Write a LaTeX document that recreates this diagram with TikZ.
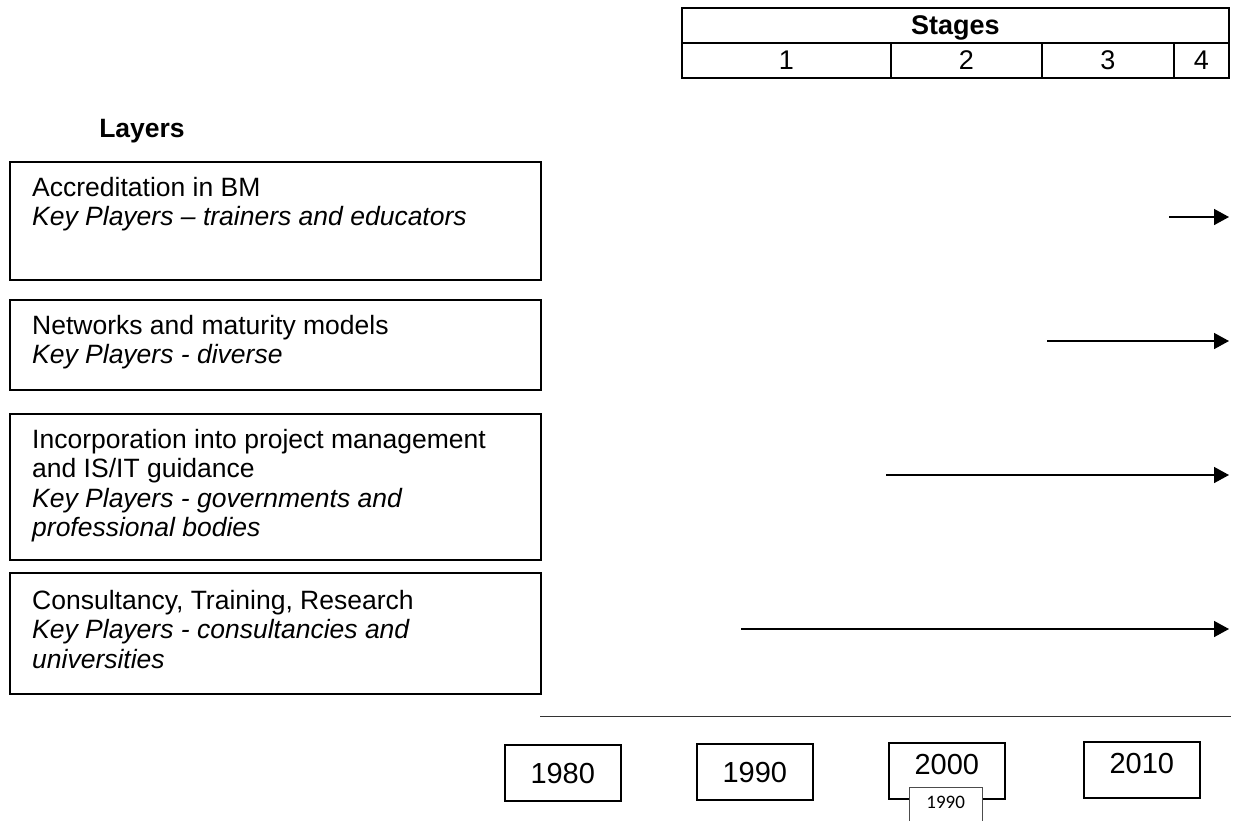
\documentclass[tikz,border=0pt]{standalone}
\usepackage{fontspec}
\setmainfont{Liberation Sans}
\newfontfamily\smallfont{Carlito}
\usetikzlibrary{arrows.meta,calc}
\begin{document}
\begin{tikzpicture}[x=1pt,y=-1pt,
  txt/.style={font=\fontsize{26.5}{29.5}\selectfont},
  cell/.style={draw, line width=1.6pt, inner sep=0pt, anchor=north west, font=\fontsize{27}{30}\selectfont, text height=19.3pt, text depth=0pt, minimum height=35pt},
  layerbox/.style={draw, line width=1.5pt, inner sep=0pt, anchor=north west, minimum width=531pt},
  layertext/.style={txt, anchor=north west, inner sep=0pt, align=left},
  yearbox/.style={draw, line width=1.5pt, inner sep=0pt, anchor=north west, minimum width=116pt, minimum height=56pt, font=\fontsize{29}{32}\selectfont, text height=20.8pt, text depth=0pt},
  arr/.style={line width=1.5pt, -{Triangle[length=15pt,width=16pt]}}
]
\useasboundingbox (0,0) rectangle (1233,820);
% Stages table
\node[cell, minimum width=547pt, font=\fontsize{27}{30}\selectfont\bfseries] (stages) at (681,7) {Stages};
\node[cell, minimum width=209pt] (s1) at (681,42) {1};
\node[cell, minimum width=151pt] (s2) at (890,42) {2};
\node[cell, minimum width=132pt] (s3) at (1041,42) {3};
\node[cell, minimum width=55pt] (s4) at (1173,42) {4};
% Layers title
\node[font=\fontsize{26.5}{29.5}\selectfont\bfseries, text height=19pt, text depth=0pt, inner sep=0pt] (layers) at (142,128) {Layers};
% Layer boxes
\node[layerbox, minimum height=118pt] (b1) at (9,161) {};
\node[layertext] (t1) at ($(b1.north west)+(23,16)$) {Accreditation in BM\\\itshape Key Players -- trainers and educators};
\node[layerbox, minimum height=90pt] (b2) at (9,299) {};
\node[layertext] (t2) at ($(b2.north west)+(23,16)$) {Networks and maturity models\\\itshape Key Players - diverse};
\node[layerbox, minimum height=146pt] (b3) at (9,413) {};
\node[layertext] (t3) at ($(b3.north west)+(23,16)$) {Incorporation into project management\\and IS/IT guidance\\\itshape Key Players - governments and\\\itshape professional bodies};
\node[layerbox, minimum height=121pt] (b4) at (9,572) {};
\node[layertext] (t4) at ($(b4.north west)+(23,18)$) {Consultancy, Training, Research\\\itshape Key Players - consultancies and\\\itshape universities};
% Arrows
\coordinate (a1s) at (1169,217); \coordinate (a1e) at (1229,217);
\coordinate (a2s) at (1047,341); \coordinate (a2e) at (1229,341);
\coordinate (a3s) at (886,475); \coordinate (a3e) at (1229,475);
\coordinate (a4s) at (741,629); \coordinate (a4e) at (1229,629);
\draw[arr] (a1s) -- (a1e);
\draw[arr] (a2s) -- (a2e);
\draw[arr] (a3s) -- (a3e);
\draw[arr] (a4s) -- (a4e);
% Time axis line
\coordinate (ls) at (540,716); \coordinate (le) at (1231,716);
\draw[line width=0.9pt, black!80] (ls) -- (le);
% Year boxes
\node[yearbox] (y1980) at (504,744) {1980};
\node[yearbox] (y1990) at (696,743) {1990};
\node[yearbox, text depth=14pt] (y2000) at (888,742) {2000};
\node[yearbox, text depth=14pt] (y2010) at (1083,741) {2010};
% Small overlapping box
\node[fill=white, inner sep=0pt, anchor=north west, minimum width=73pt, minimum height=34pt, font=\smallfont\fontsize{19}{22}\selectfont, text height=12pt, text depth=4pt] (small) at (909,787) {1990};
\draw[line width=0.9pt, black!70] (small.south west) -- (small.north west) -- (small.north east) -- (small.south east);
\end{tikzpicture}
\end{document}
